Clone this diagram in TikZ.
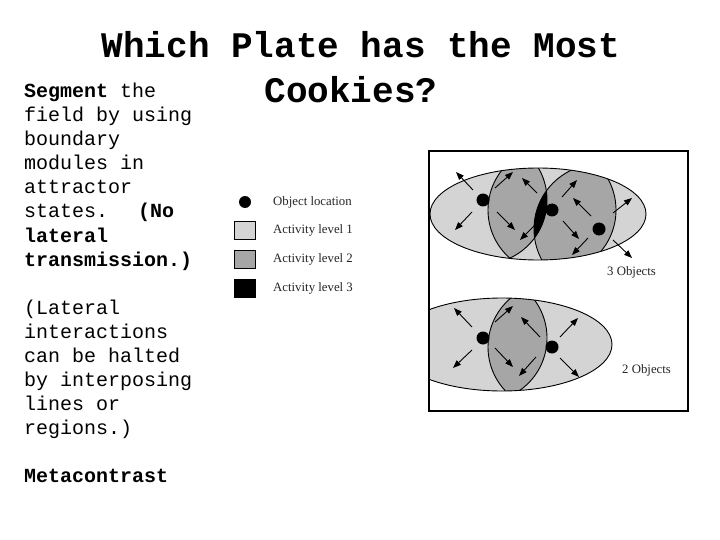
\documentclass[tikz,border=0pt]{standalone}
\usepackage{fontspec}
\setmainfont{Liberation Serif}
\newfontfamily\monof{Liberation Mono}
\usetikzlibrary{arrows.meta}
\definecolor{lvlone}{gray}{0.83}
\definecolor{lvltwo}{gray}{0.65}
\begin{document}
\begin{tikzpicture}[x=1pt,y=-1pt,
 arr/.style={-{Triangle[length=8pt,width=6pt]},line width=0.9pt},
 edge/.style={line width=0.9pt},
 legtxt/.style={anchor=west,inner sep=0pt,font=\fontsize{12.8}{14}\selectfont,text=black!85},
 side/.style={anchor=base west,inner sep=0pt,font=\monof\fontsize{20}{24}\selectfont},
 ttl/.style={anchor=base,inner sep=0pt,font=\monof\bfseries\fontsize{36}{40}\selectfont}]
\useasboundingbox[fill=white] (0,0) rectangle (720,540);

% ---------- title ----------
\node[ttl] (t1) at (361,58) {Which Plate has the Most};
\node[ttl] (t2) at (351,103) {Cookies?};

% ---------- left text ----------
\node[side] (s1) at (24,98) {\textbf{Segment} the};
\node[side] (s2) at (24,122) {field by using};
\node[side] (s3) at (24,146) {boundary};
\node[side] (s4) at (24,170) {modules in};
\node[side] (s5) at (24,194) {attractor};
\node[side] (s6) at (24,218) {states.\hspace{30pt}\textbf{(No}};
\node[side] (s7) at (24,242) {\textbf{lateral}};
\node[side] (s8) at (24,266) {\textbf{transmission.)}};
\node[side] (s9) at (24,314) {(Lateral};
\node[side] (s10) at (24,338) {interactions};
\node[side] (s11) at (24,362) {can be halted};
\node[side] (s12) at (24,386) {by interposing};
\node[side] (s13) at (24,410) {lines or};
\node[side] (s14) at (24,434) {regions.)};
\node[side] (s15) at (24,482) {\textbf{Metacontrast}};

% ---------- legend ----------
\fill (245,202) circle[radius=6pt];
\filldraw[fill=lvlone,draw=black,line width=0.8pt] (234,221) rectangle (255,239);
\filldraw[fill=lvltwo,draw=black,line width=0.8pt] (234,250) rectangle (255,268);
\filldraw[fill=black,draw=black,line width=0.8pt] (234,279) rectangle (255,297);
\node[legtxt] (l0) at (273,202) {Object location};
\node[legtxt] (l1) at (273,230) {Activity level 1};
\node[legtxt] (l2) at (273,259) {Activity level 2};
\node[legtxt] (l3) at (273,288) {Activity level 3};

% ---------- top panel ----------
\def\ellT{(538,214) ellipse [x radius=108pt, y radius=46pt]}
\def\cA{(483,200) circle[radius=64pt]}
\def\cB{(552,210) circle[radius=64pt]}
\def\cC{(599,229) circle[radius=65pt]}
\fill[lvlone] \ellT;
\begin{scope}\clip \ellT; \clip \cA; \fill[lvltwo] \cB; \end{scope}
\begin{scope}\clip \ellT; \clip \cB; \fill[lvltwo] \cC; \end{scope}
\begin{scope}\clip \ellT; \clip \cA; \clip \cB; \fill[black] \cC; \end{scope}
\begin{scope}\clip \ellT;
  \begin{scope}\clip \cB; \draw[edge] \cA; \end{scope}
  \begin{scope}\clip \cA; \draw[edge] \cB; \end{scope}
  \begin{scope}\clip \cC; \draw[edge] \cB; \end{scope}
  \begin{scope}\clip \cB; \draw[edge] \cC; \end{scope}
\end{scope}
\draw[edge] \ellT;
\fill (483,200) circle[radius=6.5pt];
\fill (552,210) circle[radius=6.5pt];
\fill (599,229) circle[radius=6.5pt];
\draw[arr] (473,190) -- (456,172);
\draw[arr] (472,212) -- (455,230);
\draw[arr] (495,188) -- (513,172);
\draw[arr] (537,193) -- (522,178);
\draw[arr] (497,212) -- (515,230);
\draw[arr] (536,224) -- (520,240);
\draw[arr] (562,197) -- (577,180);
\draw[arr] (591,216) -- (573,198);
\draw[arr] (563,221) -- (579,239);
\draw[arr] (588,238) -- (572,255);
\draw[arr] (613,213) -- (632,198);
\draw[arr] (613,240) -- (632,258);
\node[legtxt] (o3) at (607,272) {3 Objects};

% ---------- bottom panel ----------
\def\ellB{(502,344.5) ellipse [x radius=110pt, y radius=46.5pt]}
\def\cD{(483,338) circle[radius=64pt]}
\def\cE{(552,347) circle[radius=64pt]}
\begin{scope}
  \clip (430,152) rectangle (687,410);
  \fill[lvlone] \ellB;
  \begin{scope}\clip \ellB; \clip \cD; \fill[lvltwo] \cE; \end{scope}
  \begin{scope}\clip \ellB;
    \begin{scope}\clip \cE; \draw[edge] \cD; \end{scope}
    \begin{scope}\clip \cD; \draw[edge] \cE; \end{scope}
  \end{scope}
  \draw[edge] \ellB;
\end{scope}
\fill (483,338) circle[radius=6.5pt];
\fill (552,347) circle[radius=6.5pt];
\draw[arr] (472,327) -- (454,308);
\draw[arr] (472,350) -- (453,368);
\draw[arr] (495,322) -- (513,306);
\draw[arr] (540,337) -- (521,317);
\draw[arr] (495,348) -- (513,367);
\draw[arr] (536,357) -- (519,376);
\draw[arr] (560,337) -- (578,318);
\draw[arr] (560,358) -- (579,377);
\node[legtxt] (o2) at (622,370) {2 Objects};

% ---------- frame ----------
\draw[line width=2pt] (429,151) rectangle (688,411);
\end{tikzpicture}
\end{document}
